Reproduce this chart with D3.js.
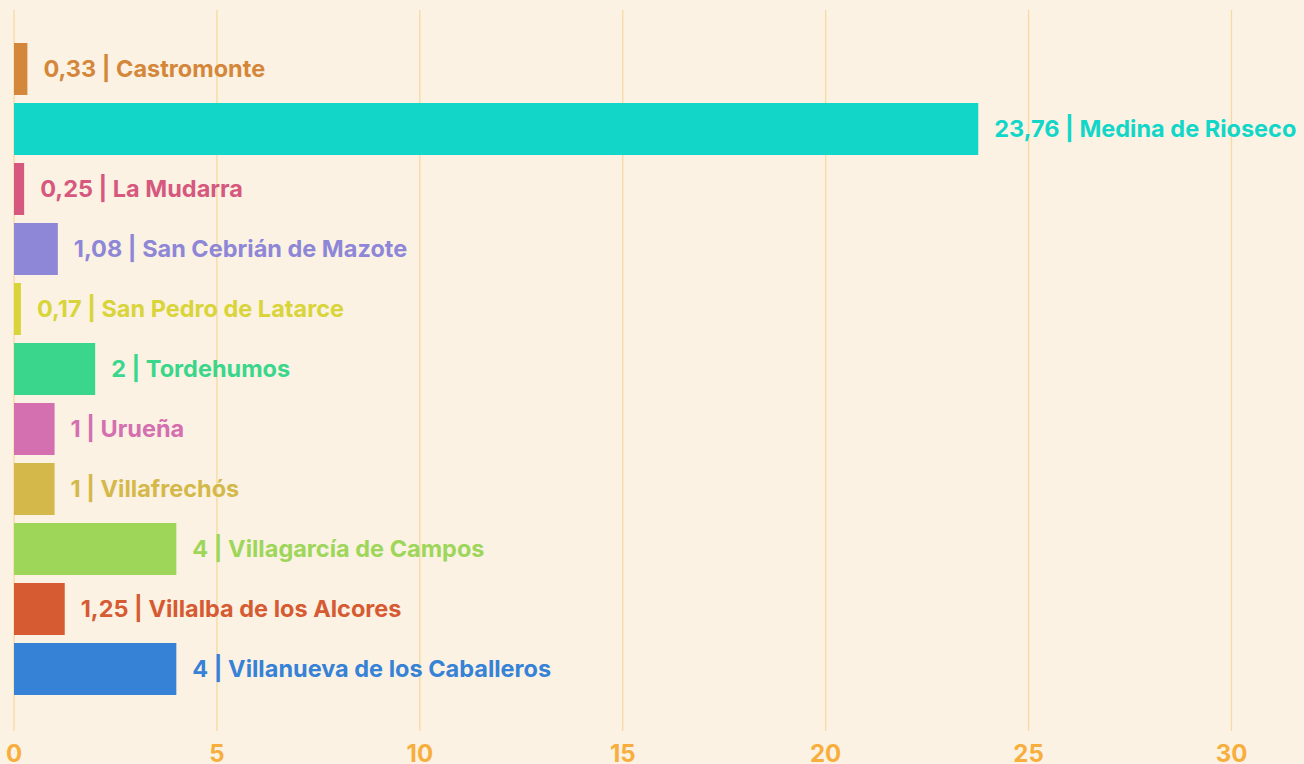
<!DOCTYPE html>
<html><head><meta charset="utf-8">
<script src="https://cdn.jsdelivr.net/npm/d3@7"></script>
<style>
html,body{margin:0;padding:0;background:#FBF2E3;}
svg{display:block;}
text{font-family:Inter, "Noto Sans", sans-serif;font-weight:700;}
</style></head>
<body><svg id="c" width="1304" height="764"></svg>
<script>
const categories = ["Castromonte","Medina de Rioseco","La Mudarra","San Cebrián de Mazote","San Pedro de Latarce","Tordehumos","Urueña","Villafrechós","Villagarcía de Campos","Villalba de los Alcores","Villanueva de los Caballeros"];
const values = [0.33,23.76,0.25,1.08,0.17,2,1,1,4,1.25,4];
const valueLabels = ["0,33","23,76","0,25","1,08","0,17","2","1","1","4","1,25","4"];
const colors = ["#D4873A","#12D6C8","#D6587E","#8E86D6","#D9D43A","#3AD68C","#D46FB0","#D4B84A","#9ED65A","#D65A32","#3682D6"];
const tickValues = [0,5,10,15,20,25,30];

const svg = d3.select("#c");
const x = d3.scaleLinear().domain([0,30]).range([14,1231.5]);
const y = d3.scaleBand().domain(categories).range([39,699]).paddingInner(8/60).paddingOuter(4/60);

svg.append("g").selectAll("line").data(tickValues).join("line")
  .attr("x1",d=>x(d)).attr("x2",d=>x(d)).attr("y1",10).attr("y2",731)
  .attr("stroke","#F8D9A2").attr("stroke-width",1.3);

svg.append("g").selectAll("text").data(tickValues).join("text")
  .attr("x",d=>x(d)).attr("y",762).attr("text-anchor","middle")
  .attr("fill","#F7AE3C").style("font-size","24px").text(d=>d);

const rows = categories.map((c,i)=>({c,v:values[i],l:valueLabels[i],col:colors[i]}));
svg.append("g").selectAll("rect").data(rows).join("rect")
  .attr("x",x(0)).attr("y",d=>y(d.c)).attr("width",d=>x(d.v)-x(0)).attr("height",y.bandwidth())
  .attr("fill",d=>d.col);

svg.append("g").selectAll("text").data(rows).join("text")
  .attr("x",d=>x(d.v)+16).attr("y",d=>y(d.c)+y.bandwidth()/2).attr("dy","0.35em")
  .attr("fill",d=>d.col).style("font-size","23.5px")
  .text(d=>d.l+" | "+d.c);
</script></body></html>
